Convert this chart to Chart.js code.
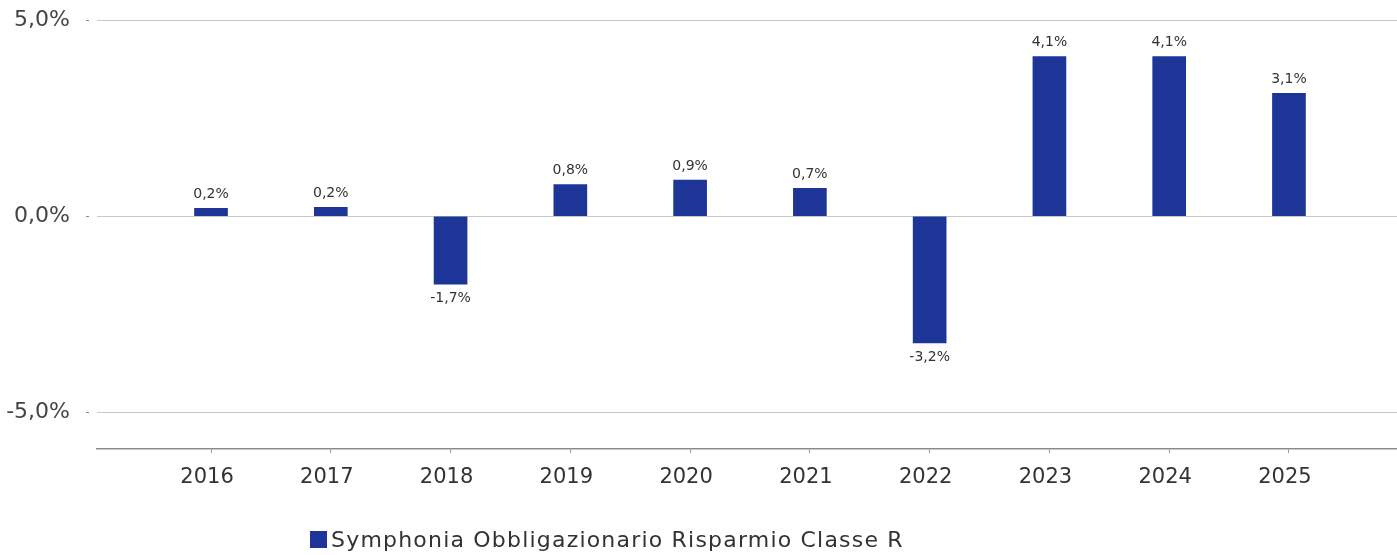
<!DOCTYPE html>
<html>
<head>
<meta charset="utf-8">
<script src="https://cdn.jsdelivr.net/npm/chart.js@4/dist/chart.umd.min.js"></script>
<style>
  body { margin: 0; background: #fff; }
  #wrap { position: relative; width: 1397px; height: 555px; }
  #legend {
    position: absolute; left: 310px; top: 527px;
    font-family: "DejaVu Sans", sans-serif; font-size: 22px; letter-spacing: 1.2px; color: #333;
    display: flex; align-items: center; white-space: nowrap;
  }
  #legend span.box { display: inline-block; width: 17px; height: 17px; background: #1c3596; margin-right: 4px; }
</style>
</head>
<body>
<div id="wrap">
  <canvas id="perfChart" width="1397" height="555"></canvas>
  <div id="legend"><span class="box"></span><span>Symphonia Obbligazionario Risparmio Classe R</span></div>
</div>
<script>
const years = ["2016", "2017", "2018", "2019", "2020", "2021", "2022", "2023", "2024", "2025"];
const returns = [0.2, 0.23, -1.73, 0.81, 0.92, 0.71, -3.23, 4.07, 4.07, 3.13];
const seriesName = "Symphonia Obbligazionario Risparmio Classe R";
const yTicks = [-5, 0, 5];

const fmt = (v) => v.toFixed(1).replace(".", ",") + "%";

// value labels above / below each bar
const barLabels = {
  id: "barLabels",
  afterDatasetsDraw(chart) {
    const ctx = chart.ctx;
    const meta = chart.getDatasetMeta(0);
    ctx.save();
    ctx.font = "14px 'DejaVu Sans', sans-serif";
    ctx.fillStyle = "#333";
    ctx.textAlign = "center";
    ctx.textBaseline = "middle";
    meta.data.forEach((bar, i) => {
      const v = returns[i];
      const y = v >= 0 ? bar.y - 14 : bar.y + 14;
      ctx.fillText(fmt(v), bar.x, y);
    });
    ctx.restore();
  }
};

new Chart(document.getElementById("perfChart"), {
  type: "bar",
  data: {
    labels: years,
    datasets: [{
      label: seriesName,
      data: returns,
      backgroundColor: "#1c3596",
      barThickness: 33
    }]
  },
  options: {
    responsive: false,
    animation: false,
    layout: { autoPadding: false, padding: { top: 20, bottom: 68, left: 0, right: 0 } },
    plugins: {
      legend: { display: false },
      tooltip: { enabled: false }
    },
    scales: {
      x: {
        offset: true,
        afterFit: (axis) => { axis.height = 38; },
        afterBuildTicks: (axis) => {
          // categories don't fill the whole plot width
          axis._startValue = -0.952;
          axis._valueRange = 10.854;
        },
        grid: { offset: false, drawOnChartArea: false, tickLength: 4, tickColor: "#999" },
        border: { display: true, color: "#8c8c8c", width: 1.5 },
        ticks: { color: "#333", font: { family: "DejaVu Sans", size: 21 }, padding: 12, labelOffset: -4, autoSkip: false, maxRotation: 0 }
      },
      y: {
        min: -5.93,
        max: 5,
        afterFit: (axis) => {
          axis.width = 97;
          axis.paddingTop = 0;
          axis.paddingBottom = 0;
        },
        afterBuildTicks: (axis) => { axis.ticks = yTicks.map((v) => ({ value: v })); },
        grid: { color: "#c8c8c8", tickLength: 11, tickColor: "#888", tickBorderDash: [3, 8] },
        border: { display: false },
        ticks: {
          color: "#444",
          font: { family: "DejaVu Sans", size: 22 },
          padding: 16,
          callback: (v) => fmt(v)
        }
      }
    }
  },
  plugins: [barLabels]
});
</script>
</body>
</html>
